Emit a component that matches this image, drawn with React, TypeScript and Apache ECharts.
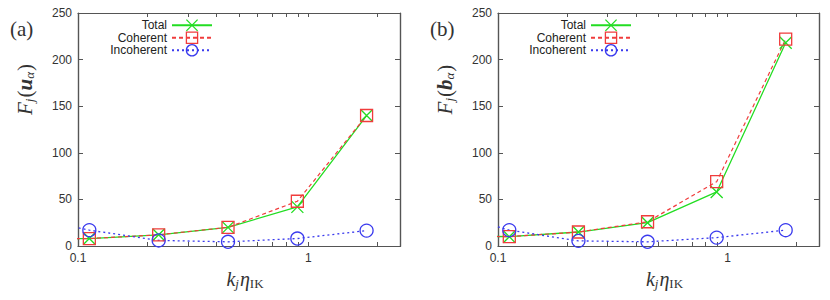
import React, { useEffect, useRef } from "react";
import * as echarts from "echarts";

// k_j * eta_IK positions (first one lies left of the plotted range and is clipped)
const kValues = [0.056, 0.112, 0.224, 0.448, 0.896, 1.79];

// Panel (a): F_j(u_alpha)
const aTotal = [8, 8, 12, 20, 42, 140];
const aCoherent = [8, 8, 12, 20, 48, 140];
const aIncoherent = [33, 17, 6, 4.5, 8, 16.5];

// Panel (b): F_j(b_alpha)
const bTotal = [11, 10, 15, 25, 58, 218];
const bCoherent = [11, 10, 15, 26, 69, 222];
const bIncoherent = [38, 17, 5.5, 4.5, 9, 17];

const xTickValues = [0.1, 0.2, 0.3, 0.4, 0.5, 0.6, 0.7, 0.8, 0.9, 1, 2];
const xLabelValues = [0.1, 1];
const X_MIN = 0.1;
const X_MAX = 2.5;
const Y_MIN = 0;
const Y_MAX = 250;
const seriesNames = ["Total", "Coherent", "Incoherent"];

const GREEN = "#22dd22";
const RED = "#f03c3c";
const BLUE = "#3a3aee";
const FRAME = "#555";
const SANS = "Liberation Sans, Arial, sans-serif";
const SERIF = "Liberation Serif, DejaVu Serif, serif";

const pair = (xs: number[], ys: number[]) => xs.map((x, i) => [x, ys[i]]);

function bottomXAxis(gridIndex: number) {
  return {
    type: "log",
    gridIndex,
    position: "bottom",
    min: X_MIN,
    max: X_MAX,
    axisLine: { show: true, onZero: false, lineStyle: { color: FRAME, width: 1.2 } },
    axisTick: { show: true, inside: true, length: 4, customValues: xTickValues, lineStyle: { color: FRAME } },
    axisLabel: {
      show: true,
      customValues: xLabelValues,
      margin: 6,
      fontFamily: SANS,
      fontSize: 12,
      color: "#333",
      formatter: (v: number) => String(Number(v.toPrecision(3))),
    },
    splitLine: { show: false },
    name: "{it|k}{sub|j}{it|η}{subr|IK}",
    nameLocation: "middle",
    nameGap: 20,
    nameTextStyle: {
      padding: [0, 0, 0, 12],
      rich: {
        it: { fontFamily: SERIF, fontStyle: "italic", fontSize: 20, color: "#333" },
        sub: { fontFamily: SERIF, fontStyle: "italic", fontSize: 13, color: "#333", padding: [9, 1, 0, 0] },
        subr: { fontFamily: SERIF, fontSize: 13, color: "#333", padding: [9, 0, 0, 0] },
      },
    },
  };
}

function topXAxis(gridIndex: number) {
  return {
    type: "log",
    gridIndex,
    position: "top",
    min: X_MIN,
    max: X_MAX,
    axisLine: { show: true, onZero: false, lineStyle: { color: FRAME, width: 1.2 } },
    axisTick: { show: true, inside: true, length: 4, customValues: xTickValues, lineStyle: { color: FRAME } },
    axisLabel: { show: false },
    splitLine: { show: false },
  };
}

function leftYAxis(gridIndex: number, nameVar: string) {
  return {
    type: "value",
    gridIndex,
    position: "left",
    min: Y_MIN,
    max: Y_MAX,
    interval: 50,
    axisLine: { show: true, onZero: false, lineStyle: { color: FRAME, width: 1.2 } },
    axisTick: { show: true, inside: true, length: 5, lineStyle: { color: FRAME } },
    axisLabel: { show: true, margin: 6, fontFamily: SANS, fontSize: 12, color: "#333" },
    splitLine: { show: false },
    name: `{it|F}{sub|j}{par|(}{bi|${nameVar}}{sub|α}{par|)}`,
    nameLocation: "middle",
    nameRotate: 90,
    nameGap: 42,
    nameTextStyle: {
      padding: [0, 0, 0, 80],
      rich: {
        it: { fontFamily: SERIF, fontStyle: "italic", fontSize: 21, color: "#333" },
        bi: { fontFamily: SERIF, fontStyle: "italic", fontWeight: "bold", fontSize: 21, color: "#333" },
        par: { fontFamily: SERIF, fontSize: 21, color: "#333" },
        sub: { fontFamily: SERIF, fontStyle: "italic", fontSize: 13, color: "#333", padding: [9, 1, 0, 0] },
      },
    },
  };
}

function rightYAxis(gridIndex: number) {
  return {
    type: "value",
    gridIndex,
    position: "right",
    min: Y_MIN,
    max: Y_MAX,
    interval: 50,
    axisLine: { show: true, onZero: false, lineStyle: { color: FRAME, width: 1.2 } },
    axisTick: { show: true, inside: true, length: 5, lineStyle: { color: FRAME } },
    axisLabel: { show: false },
    splitLine: { show: false },
  };
}

function makeSeries(xIdx: number, yIdx: number, total: number[], coherent: number[], incoherent: number[]) {
  const common = {
    type: "line",
    xAxisIndex: xIdx,
    yAxisIndex: yIdx,
    symbolSize: 12,
    clip: true,
    z: 3,
  };
  return [
    {
      ...common,
      name: seriesNames[0],
      data: pair(kValues, total),
      symbol: "path://M0,0L10,10M10,0L0,10",
      lineStyle: { color: GREEN, width: 1.3, type: "solid" },
      itemStyle: { color: "transparent", borderColor: GREEN, borderWidth: 1.3 },
    },
    {
      ...common,
      name: seriesNames[1],
      data: pair(kValues, coherent),
      symbol: "rect",
      lineStyle: { color: RED, width: 1.2, type: [4, 3] },
      itemStyle: { color: "transparent", borderColor: RED, borderWidth: 1.3 },
    },
    {
      ...common,
      name: seriesNames[2],
      data: pair(kValues, incoherent),
      symbol: "circle",
      symbolSize: 13,
      lineStyle: { color: BLUE, width: 1.3, type: [2, 3] },
      itemStyle: { color: "transparent", borderColor: BLUE, borderWidth: 1.3 },
    },
  ];
}

function makeLegend(right: number) {
  return {
    show: true,
    data: seriesNames,
    orient: "vertical",
    align: "right",
    right,
    top: 19,
    padding: 0,
    itemWidth: 40,
    itemHeight: 14,
    itemGap: 0,
    selectedMode: false,
    textStyle: { fontFamily: SANS, fontSize: 12, color: "#222" },
    itemStyle: { borderWidth: 1.3 },
  };
}

export default function App() {
  const ref = useRef<HTMLDivElement>(null);

  useEffect(() => {
    if (!ref.current) return;
    const chart = echarts.init(ref.current, undefined, { renderer: "svg" });
    const option = {
      animation: false,
      grid: [
        { left: 78, right: 430, top: 13, bottom: 54 },
        { left: 498, right: 11, top: 13, bottom: 54 },
      ],
      xAxis: [bottomXAxis(0), topXAxis(0), bottomXAxis(1), topXAxis(1)],
      yAxis: [leftYAxis(0, "u"), rightYAxis(0), leftYAxis(1, "b"), rightYAxis(1)],
      series: [
        ...makeSeries(0, 0, aTotal, aCoherent, aIncoherent),
        ...makeSeries(2, 2, bTotal, bCoherent, bIncoherent),
      ],
      title: [
        { text: "(a)", left: 5, top: 13, textStyle: { fontFamily: SERIF, fontSize: 21, fontWeight: "normal", color: "#333" } },
        { text: "(b)", left: 425, top: 13, textStyle: { fontFamily: SERIF, fontSize: 21, fontWeight: "normal", color: "#333" } },
      ],
      legend: [makeLegend(617), makeLegend(198)],
    };
    chart.setOption(option as any);

    // Frame of each plot box, located through the library's own coordinate conversion
    const frames: any[] = [];
    [0, 1].forEach((gridIndex) => {
      const p1 = chart.convertToPixel({ gridIndex } as any, [X_MIN, Y_MAX]) as number[];
      const p2 = chart.convertToPixel({ gridIndex } as any, [X_MAX, Y_MIN]) as number[];
      if (p1 && p2 && isFinite(p1[0]) && isFinite(p2[0])) {
        frames.push({
          type: "rect",
          silent: true,
          z: 1,
          shape: {
            x: Math.round(p1[0]) + 0.5,
            y: Math.round(p1[1]) + 0.5,
            width: Math.round(p2[0] - p1[0]),
            height: Math.round(p2[1] - p1[1]),
          },
          style: { fill: "none", stroke: FRAME, lineWidth: 1.2 },
        });
      }
    });
    if (frames.length) chart.setOption({ graphic: frames } as any);

    return () => chart.dispose();
  }, []);

  return (
    <div
      ref={ref}
      style={{ position: "fixed", left: 0, top: 0, width: 830, height: 300, background: "#fff" }}
    />
  );
}
